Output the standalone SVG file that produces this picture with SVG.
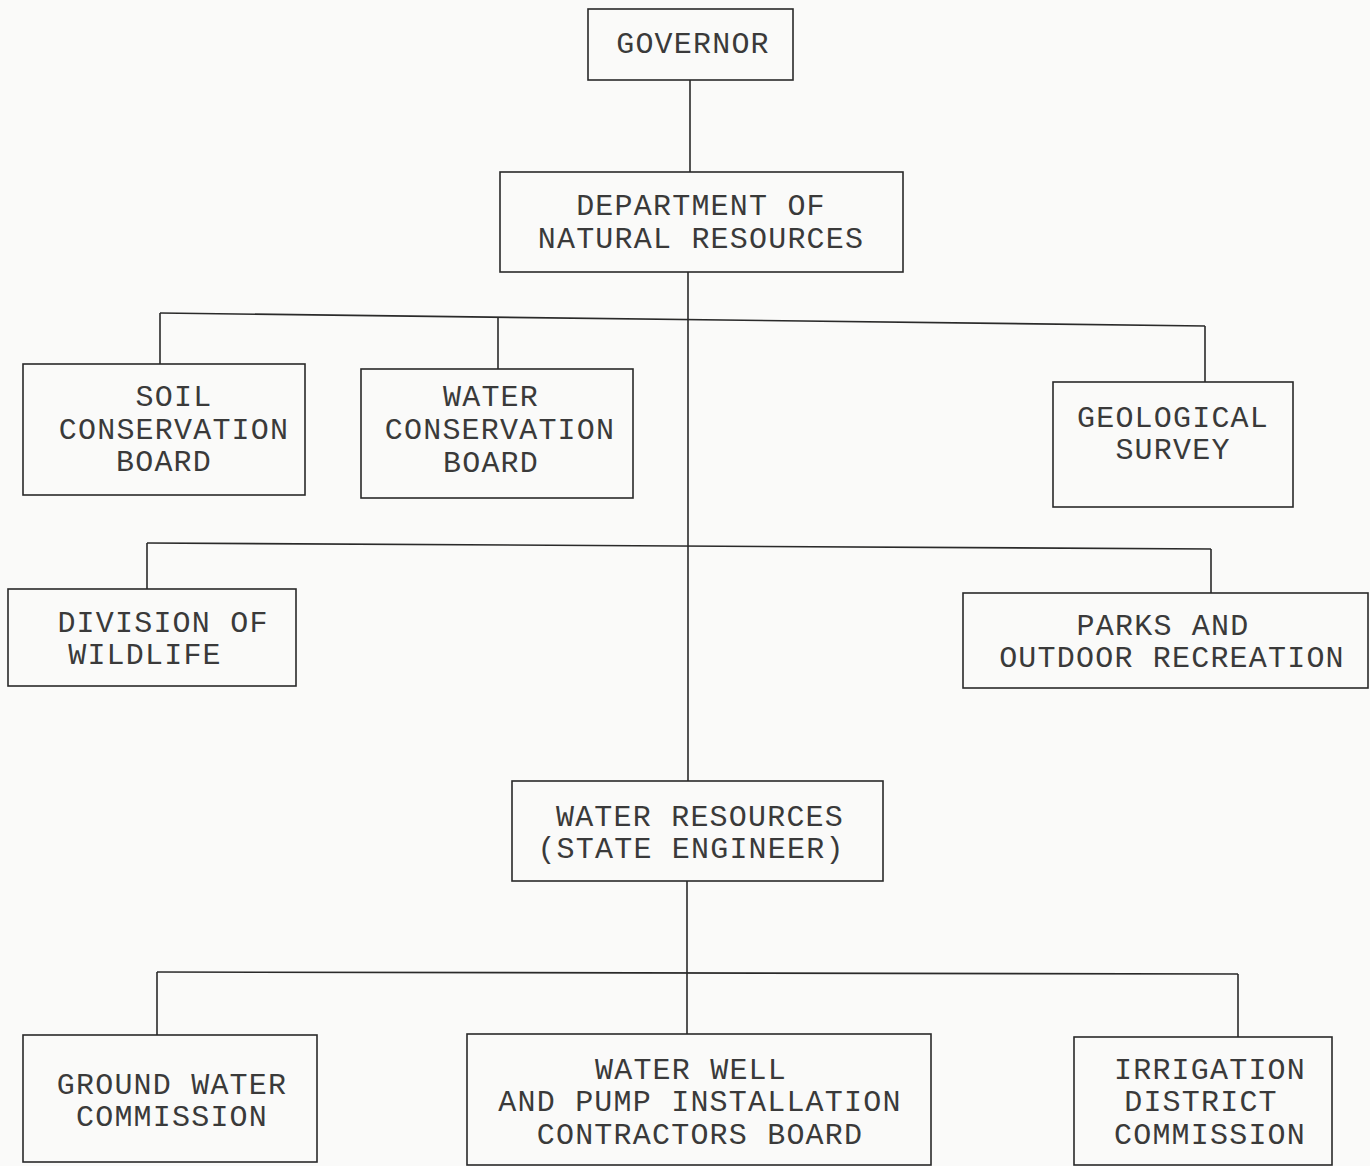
<svg xmlns="http://www.w3.org/2000/svg" width="1370" height="1166" viewBox="0 0 1370 1166">
  <style>
    .box { fill: none; stroke: #2a2a2a; stroke-width: 1.6; }
    .wire { fill: none; stroke: #2a2a2a; stroke-width: 1.6; }
    .lbl { font-family: "Liberation Mono", "Courier New", monospace; font-size: 30px; letter-spacing: 1.2px; fill: #3a3a3a; text-anchor: middle; }
  </style>
  <rect width="1370" height="1166" fill="#fafaf9"/>

  <!-- reporting lines -->
  <g id="connectors">
    <line class="wire" x1="690" y1="80" x2="690" y2="172"/>
    <line class="wire" x1="688" y1="272" x2="688" y2="781"/>
    <!-- first tier bar -->
    <line class="wire" x1="160" y1="313" x2="1205" y2="326"/>
    <line class="wire" x1="160" y1="313" x2="160" y2="364"/>
    <line class="wire" x1="498" y1="317" x2="498" y2="369"/>
    <line class="wire" x1="1205" y1="326" x2="1205" y2="382"/>
    <!-- second tier bar -->
    <line class="wire" x1="147" y1="543" x2="1211" y2="549"/>
    <line class="wire" x1="147" y1="543" x2="147" y2="589"/>
    <line class="wire" x1="1211" y1="549" x2="1211" y2="593"/>
    <!-- below water resources -->
    <line class="wire" x1="687" y1="881" x2="687" y2="1034"/>
    <line class="wire" x1="157" y1="972" x2="1238" y2="974"/>
    <line class="wire" x1="157" y1="972" x2="157" y2="1035"/>
    <line class="wire" x1="1238" y1="974" x2="1238" y2="1037"/>
  </g>

  <g id="governor">
    <rect class="box" x="588" y="9" width="205" height="71"/>
    <text class="lbl" x="693" y="53">GOVERNOR</text>
  </g>

  <g id="natural-resources">
    <rect class="box" x="500" y="172" width="403" height="100"/>
    <text class="lbl" x="701" y="215">DEPARTMENT OF</text>
    <text class="lbl" x="701" y="248">NATURAL RESOURCES</text>
  </g>

  <g id="soil-conservation">
    <rect class="box" x="23" y="364" width="282" height="131"/>
    <text class="lbl" x="174" y="406">SOIL</text>
    <text class="lbl" x="174" y="439">CONSERVATION</text>
    <text class="lbl" x="164" y="471">BOARD</text>
  </g>

  <g id="water-conservation">
    <rect class="box" x="361" y="369" width="272" height="129"/>
    <text class="lbl" x="491" y="406">WATER</text>
    <text class="lbl" x="500" y="439">CONSERVATION</text>
    <text class="lbl" x="491" y="472">BOARD</text>
  </g>

  <g id="geological-survey">
    <rect class="box" x="1053" y="382" width="240" height="125"/>
    <text class="lbl" x="1173" y="427">GEOLOGICAL</text>
    <text class="lbl" x="1173" y="459">SURVEY</text>
  </g>

  <g id="wildlife">
    <rect class="box" x="8" y="589" width="288" height="97"/>
    <text class="lbl" x="163" y="632">DIVISION OF</text>
    <text class="lbl" x="145" y="664">WILDLIFE</text>
  </g>

  <g id="parks">
    <rect class="box" x="963" y="593" width="405" height="95"/>
    <text class="lbl" x="1163" y="635">PARKS AND</text>
    <text class="lbl" x="1172" y="667">OUTDOOR RECREATION</text>
  </g>

  <g id="water-resources">
    <rect class="box" x="512" y="781" width="371" height="100"/>
    <text class="lbl" x="700" y="826">WATER RESOURCES</text>
    <text class="lbl" x="691" y="858">(STATE ENGINEER)</text>
  </g>

  <g id="ground-water">
    <rect class="box" x="23" y="1035" width="294" height="127"/>
    <text class="lbl" x="172" y="1094">GROUND WATER</text>
    <text class="lbl" x="172" y="1126">COMMISSION</text>
  </g>

  <g id="well-contractors">
    <rect class="box" x="467" y="1034" width="464" height="131"/>
    <text class="lbl" x="691" y="1079">WATER WELL</text>
    <text class="lbl" x="700" y="1111">AND PUMP INSTALLATION</text>
    <text class="lbl" x="700" y="1144">CONTRACTORS BOARD</text>
  </g>

  <g id="irrigation">
    <rect class="box" x="1074" y="1037" width="258" height="128"/>
    <text class="lbl" x="1210" y="1079">IRRIGATION</text>
    <text class="lbl" x="1201" y="1111">DISTRICT</text>
    <text class="lbl" x="1210" y="1144">COMMISSION</text>
  </g>
</svg>
